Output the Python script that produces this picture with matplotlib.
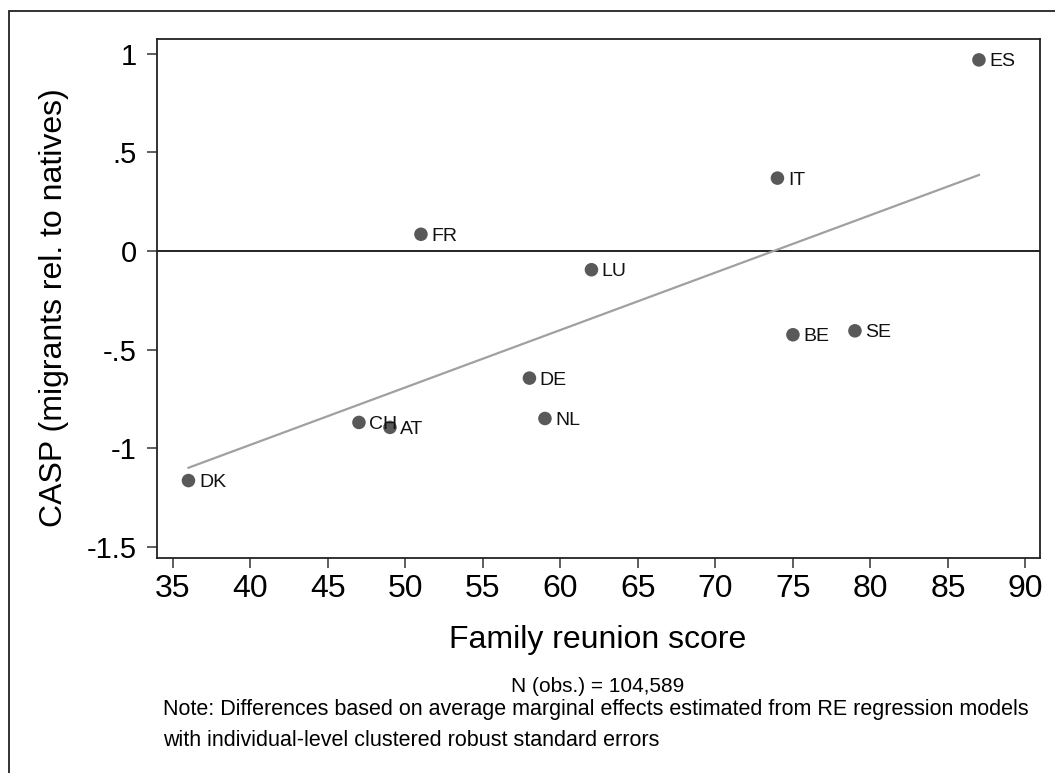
"""
CASP gap (migrants vs natives) against family reunion score, by country.
"""
import numpy as np
import matplotlib.pyplot as plt
from matplotlib.patches import Rectangle

# country labels and values
countries = ["ES", "IT", "FR", "LU", "BE", "SE", "DE", "NL", "CH", "AT", "DK"]
reunion_score = [87, 74, 51, 62, 75, 79, 58, 59, 47, 49, 36]
casp_gap = [0.97, 0.37, 0.085, -0.095, -0.425, -0.405, -0.645, -0.85, -0.87, -0.895, -1.165]

# fitted line end points as drawn
fit_x = [36, 87]
fit_y = [-1.10, 0.386]

x_ticks = list(range(35, 95, 5))
y_ticks = [1, 0.5, 0, -0.5, -1, -1.5]
y_ticklabels = ["1", ".5", "0", "-.5", "-1", "-1.5"]

plt.rcParams["font.family"] = ["Liberation Sans", "DejaVu Sans"]

W, H = 1055, 773
fig = plt.figure(figsize=(W / 100, H / 100), dpi=100)
ax = fig.add_axes([157 / W, 1 - 558 / H, (1040 - 157) / W, (558 - 39) / H])

ax.plot(fit_x, fit_y, color="#a0a0a0", linewidth=1.6, zorder=2)
ax.axhline(0, color="#222222", linewidth=1.4, zorder=1)
ax.scatter(reunion_score, casp_gap, s=95, color="#595959", edgecolors="none", zorder=3)
for c, x, y in zip(countries, reunion_score, casp_gap):
    ax.annotate(c, (x, y), xytext=(7.5, -1.5), textcoords="offset points",
                ha="left", va="center", fontsize=14, color="#111111", zorder=4)

ax.set_xlim(33.97, 90.94)
ax.set_ylim(-1.558, 1.076)
ax.set_xticks(x_ticks)
ax.set_xticklabels([str(t) for t in x_ticks], fontsize=23)
ax.set_yticks(y_ticks)
ax.set_yticklabels(y_ticklabels, fontsize=21)
ax.tick_params(axis="both", length=7.5, width=1.1, color="#333333")
ax.tick_params(axis="x", pad=4)
ax.tick_params(axis="y", pad=7)
for s in ax.spines.values():
    s.set_linewidth(1.3)
    s.set_color("#222222")

fig.text(54 / W, 1 - 308 / H, "CASP (migrants rel. to natives)", fontsize=23,
         rotation=90, ha="center", va="center")
fig.text(598 / W, 1 - 640 / H, "Family reunion score", fontsize=23,
         ha="center", va="center")
fig.text(598 / W, 1 - 686 / H, "N (obs.) = 104,589", fontsize=15,
         ha="center", va="center")
fig.text(163 / W, 1 - 709 / H,
         "Note: Differences based on average marginal effects estimated from RE regression models",
         fontsize=15.5, ha="left", va="center")
fig.text(163 / W, 1 - 741 / H,
         "with individual-level clustered robust standard errors",
         fontsize=15.5, ha="left", va="center")

# outer frame (only left and top edges fall inside the image)
fig.patches.append(Rectangle((9 / W, -0.1), 1.2, 1.1 - 11 / H, transform=fig.transFigure,
                             fill=False, edgecolor="#222222", linewidth=1.3))

fig.savefig("out.png", dpi=100)
